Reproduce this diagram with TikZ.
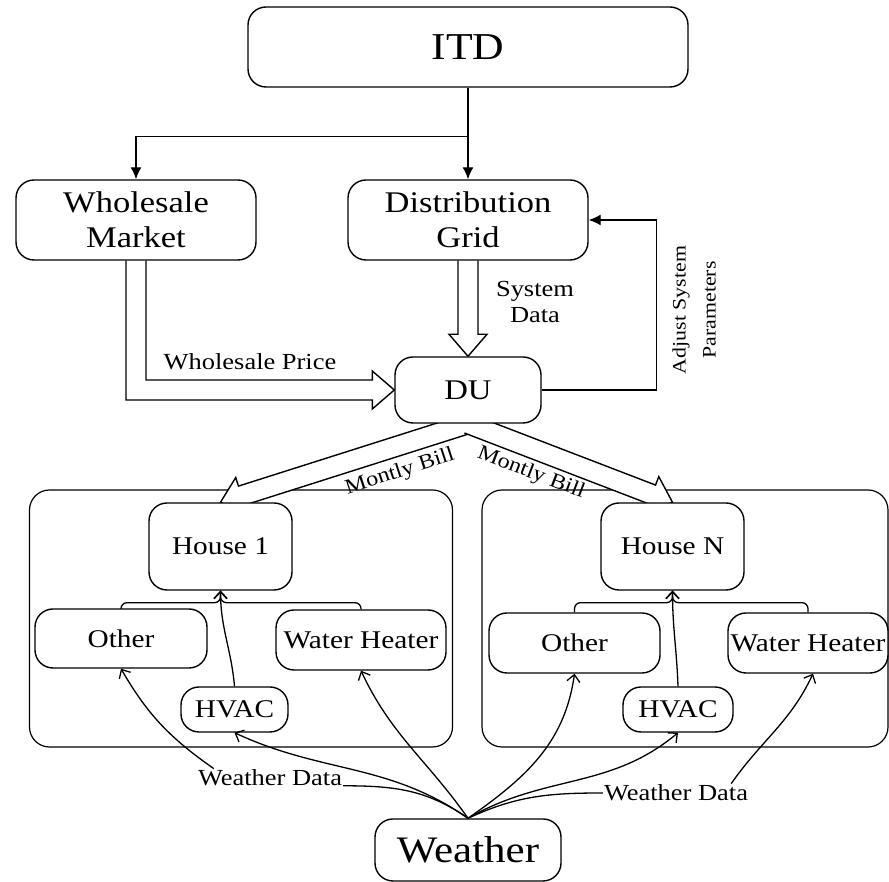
\documentclass[tikz,border=0pt]{standalone}
\usepackage{fontspec}
\setmainfont{Liberation Serif}[FakeStretch=1.15]
\usetikzlibrary{arrows.meta,calc,backgrounds}
\tikzset{>={Latex[length=12pt,width=11pt]}}
\tikzset{
  box/.style={draw,rounded corners=18pt,line width=1.4pt,fill=white,inner sep=0pt,align=center},
  group/.style={draw,rounded corners=20pt,line width=1.2pt},
  lbl/.style={inner sep=1pt,align=center,font=\fontsize{23}{26}\selectfont},
  fat/.style={draw,fill=white,line width=1.4pt,line join=miter},
  feed/.style={-{Straight Barb[length=7pt,width=13pt]},line width=1.3pt},
  wire/.style={line width=1.3pt}
}
% hollow block arrow from #1 to #2
\newcommand{\fatarrow}[2]{%
  \coordinate (fatbase) at ($(#2)!22pt!(#1)$);
  \filldraw[fat] ($(#1)!10pt!-90:(#2)$) -- ($(fatbase)!10pt!-90:(#2)$)
    -- ($(fatbase)!19pt!-90:(#2)$) -- (#2) -- ($(fatbase)!19pt!90:(#2)$)
    -- ($(fatbase)!10pt!90:(#2)$) -- ($(#1)!10pt!90:(#2)$);}

\begin{document}
\begin{tikzpicture}[x=1pt,y=1pt]
\useasboundingbox (0,0) rectangle (889,882);

% top part
\node[box,minimum width=440,minimum height=80,font=\fontsize{38}{40}\selectfont] (itd) at (468,835) {ITD};
\node[box,minimum width=240,minimum height=80,font=\fontsize{30}{35}\selectfont] (wm) at (136,662) {Wholesale\\Market};
\node[box,minimum width=240,minimum height=80,font=\fontsize{30}{35}\selectfont] (grid) at (468,662) {Distribution\\Grid};
\node[box,minimum width=146,minimum height=66,font=\fontsize{28.5}{30}\selectfont] (du) at (468,492) {DU};

% houses
\begin{scope}[every node/.append style={font=\fontsize{25.5}{28}\selectfont}]
\node[box,minimum width=143,minimum height=87] (house1) at (220.5,335.5) {House 1};
\node[box,minimum width=172,minimum height=59] (other1) at (121,243.5) {Other};
\node[box,minimum width=170,minimum height=60] (heater1) at (361,242) {Water Heater};
\node[box,minimum width=107,minimum height=45] (hvac1) at (234.5,172.5) {HVAC};
\node[box,minimum width=143,minimum height=87] (houseN) at (672.5,335.5) {House N};
\node[box,minimum width=171,minimum height=60] (otherN) at (574.5,239) {Other};
\node[box,minimum width=160,minimum height=60] (heaterN) at (808,239) {Water Heater};
\node[box,minimum width=110,minimum height=45] (hvacN) at (678,172.5) {HVAC};
\end{scope}
\node[box,minimum width=186,minimum height=62,font=\fontsize{37.4}{40}\selectfont] (weather) at (468,32) {Weather};

% labels
\node[lbl] (sysdata) at (535,580) {System\\Data};
\node[lbl] (wprice) at (250,520) {Wholesale Price};
\node[lbl,rotate=90,font=\fontsize{19}{30}\selectfont] (adjust) at (694,572) {Adjust System\\Parameters};
\node[lbl,rotate=18,font=\fontsize{21}{24}\selectfont] (bill1) at (400,410) {Montly Bill};
\node[lbl,rotate=-21,font=\fontsize{21}{24}\selectfont] (billN) at (531,409) {Montly Bill};
\node[lbl] (wdata1) at (270,104) {Weather Data};
\node[lbl] (wdataN) at (676,89) {Weather Data};

% ITD and feedback
\coordinate (split) at ($(itd.south)!0.53!(grid.north)$);
\coordinate (adj) at ($(du.east)+(115,0)$);
\draw[->,line width=1.4pt] (itd.south) -- (grid.north);
\draw[->,line width=1.4pt] (split) -| (wm.north);
\draw[->,line width=1.4pt] (du.east) -- (adj) |- (grid.east);

% inside the houses
\draw[feed,rounded corners=6pt] (other1.north) |- ($(house1.south)+(0,-12)$) -- (house1.south);
\draw[feed,rounded corners=6pt] (heater1.north) |- ($(house1.south)+(0,-12)$) -- (house1.south);
\draw[feed] (hvac1.north) to[out=95,in=-90] (house1.south);
\draw[feed,rounded corners=6pt] (otherN.north) |- ($(houseN.south)+(0,-12)$) -- (houseN.south);
\draw[feed,rounded corners=6pt] (heaterN.north) |- ($(houseN.south)+(0,-12)$) -- (houseN.south);
\draw[feed] (hvacN.north) to[out=92,in=-90] (houseN.south);

% weather data
\draw[wire] (weather.north) to[out=145,in=0] (wdata1.base east);
\draw[feed] ([xshift=17pt]wdata1.north west) to[out=145,in=-60] (other1.south);
\draw[feed] (weather.north) to[out=145,in=-25] (hvac1.south);
\draw[feed] (weather.north) to[out=125,in=-65] (heater1.south);
\draw[feed] (weather.north) to[out=35,in=-98] (otherN.south);
\draw[feed] (weather.north) to[out=30,in=-140] (hvacN.south);
\draw[wire] (weather.north) to[out=25,in=180] (wdataN.west);
\draw[feed] ([xshift=-18pt]wdataN.north east) to[out=55,in=-115] ([xshift=5pt]heaterN.south);

\begin{pgfonlayer}{background}
\node[group,minimum width=423,minimum height=257] (home1) at (241,263.5) {};
\node[group,minimum width=406,minimum height=257] (homeN) at (685,263.5) {};
\filldraw[fat] ($(wm.south)+(-10,0)$) |- ($(du.west)+(-22,-10)$) -- ++(0,-9) -- (du.west)
  -- ++(-22,19) -- ++(0,-9) -| ($(wm.south)+(10,0)$);
\fatarrow{grid.south}{du.north}
\fatarrow{du.south}{house1.north}
\fatarrow{du.south}{houseN.north}
\end{pgfonlayer}
\end{tikzpicture}
\end{document}
